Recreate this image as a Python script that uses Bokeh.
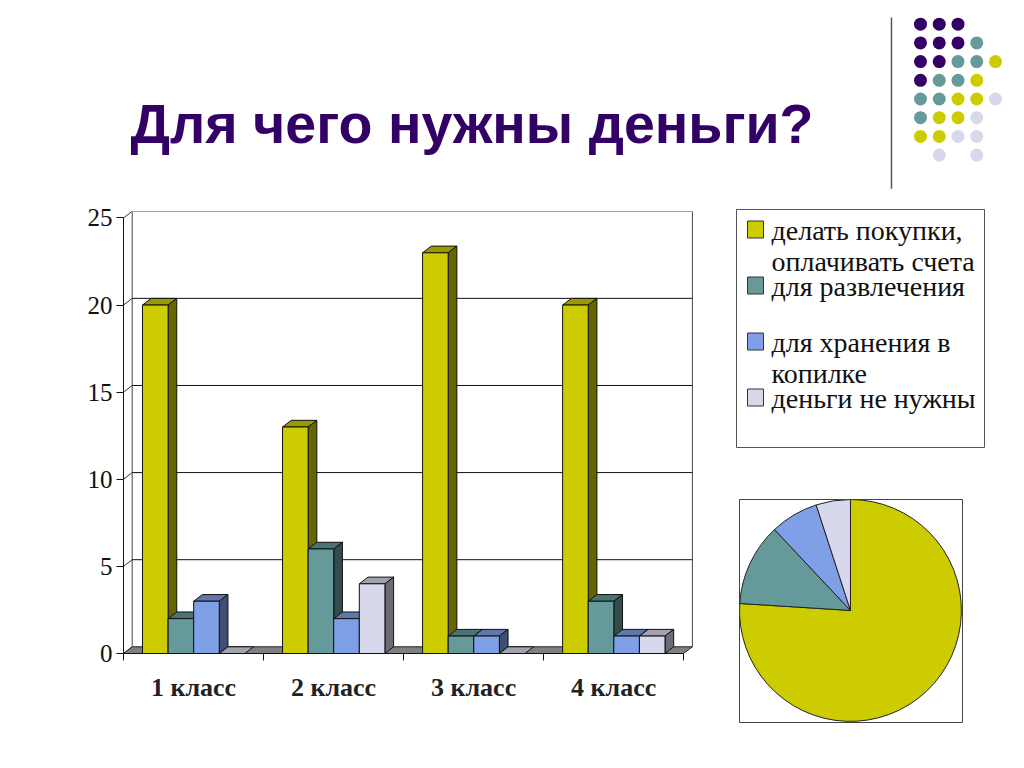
import math
from bokeh.plotting import figure
from bokeh.layouts import column, row
from bokeh.models import Label, FixedTicker, Range1d
from bokeh.core.properties import value
from bokeh.embed import file_html
from bokeh.resources import INLINE

# ---------- data ----------
title_text = "Для чего нужны деньги?"
categories = ["1 класс", "2 класс", "3 класс", "4 класс"]
series_names = ["делать покупки,\nоплачивать счета", "для развлечения",
                "для хранения в\nкопилке", "деньги не нужны"]
buy = [20, 13, 23, 20]
fun = [2, 6, 1, 3]
save = [3, 2, 1, 1]
no_need = [0, 4, 0, 1]
y_ticks = [0, 5, 10, 15, 20, 25]

front_colors = ["#CCCC00", "#669999", "#7F9FE6", "#D8D8EC"]
top_colors = ["#999900", "#4C7373", "#5F77AD", "#A2A2B1"]
side_colors = ["#666600", "#334C4C", "#3F4F73", "#6C6C76"]

dot_colors = {"P": "#330066", "T": "#669999", "Y": "#CCCC00", "L": "#D8D8EC"}
dot_rows = ["PPP..", "PPPT.", "PPTTY", "PTTY.", "TTYYL", "TYYL.", "YYLL.", ".L.L."]

SERIF = value("Liberation Serif")
series = [buy, fun, save, no_need]

# ---------- title ----------
pt = figure(width=880, height=195, output_backend="svg", toolbar_location=None,
            x_range=Range1d(0, 880), y_range=Range1d(0, 195), min_border=0)
pt.axis.visible = False
pt.grid.visible = False
pt.outline_line_color = None
pt.add_layout(Label(x=130, y=41, x_units="screen", y_units="screen", text=title_text,
                    text_font="Liberation Sans", text_font_style="bold",
                    text_font_size="55.5px", text_color="#330066"))

# ---------- decorative dots ----------
pd_ = figure(width=136, height=195, output_backend="svg", toolbar_location=None,
             x_range=Range1d(-2.133, 5.12), y_range=Range1d(9.16, -1.267), min_border=0)
pd_.axis.visible = False
pd_.grid.visible = False
pd_.outline_line_color = None
pd_.segment([-1.547], [-0.36], [-1.547], [8.8], line_color="#555555", line_width=1.5)
dx_, dy_, dc_ = [], [], []
for r, txt in enumerate(dot_rows):
    for c, ch in enumerate(txt):
        if ch != ".":
            dx_.append(c); dy_.append(r); dc_.append(dot_colors[ch])
pd_.scatter(dx_, dy_, size=13, fill_color=dc_, line_color=None)

# ---------- 3D bar chart ----------
BAR_W = 25.6 / 140.1
GAP = 19 / 140.1
DX = 8.7 / 140.1
DY = 6.7 / 17.44
n = len(categories)
p = figure(width=720, height=565, output_backend="svg", toolbar_location=None,
           x_range=Range1d(0, 4.07), y_range=Range1d(0, 25.37),
           min_border_left=123, min_border_right=27, min_border_top=16, min_border_bottom=107)
p.grid.visible = False
p.outline_line_color = None

# walls and floor
p.patch([0, DX, n + DX, n], [0, DY, DY, 0], fill_color="#808080", line_color="#222222", line_width=1)
p.multi_line([[DX, DX]], [[DY, 25 + DY]], line_color="#444444", line_width=1)
p.multi_line([[DX, n + DX]] * 5, [[t + DY, t + DY] for t in y_ticks[1:]], line_color="#111111", line_width=1)
p.multi_line([[n + DX, n + DX]], [[DY, 25 + DY]], line_color="#444444", line_width=1)
p.multi_line([[0, DX]] * 6, [[t, t + DY] for t in y_ticks], line_color="#333333", line_width=1)

# bars
for g in range(n):
    for s, vals in enumerate(series):
        v = vals[g]
        x0 = g + GAP + s * BAR_W
        x1 = x0 + BAR_W
        p.patch([x0, x1, x1 + DX, x0 + DX], [v, v, v + DY, v + DY],
                fill_color=top_colors[s], line_color="#111111", line_width=1)
        if v > 0:
            p.patch([x1, x1 + DX, x1 + DX, x1], [0, DY, v + DY, v],
                    fill_color=side_colors[s], line_color="#111111", line_width=1)
            p.quad(left=[x0], right=[x1], bottom=[0], top=[v],
                   fill_color=front_colors[s], line_color="#111111", line_width=1)

p.xaxis.ticker = FixedTicker(ticks=[i + 0.5 for i in range(n)], minor_ticks=list(range(n + 1)))
p.xaxis.major_label_overrides = {i + 0.5: c for i, c in enumerate(categories)}
p.xaxis.bounds = (0, n)
p.xaxis.major_tick_line_color = None
p.xaxis.minor_tick_in = 0
p.xaxis.minor_tick_out = 7
p.xaxis.minor_tick_line_color = "#111111"
p.xaxis.axis_line_color = "#111111"
p.xaxis.major_label_text_font = "Liberation Serif"
p.xaxis.major_label_text_font_size = "26px"
p.xaxis.major_label_text_font_style = "bold"
p.xaxis.major_label_text_color = "#222222"
p.xaxis.major_label_standoff = 12
p.yaxis.ticker = FixedTicker(ticks=y_ticks)
p.yaxis.bounds = (0, 25)
p.yaxis.minor_tick_line_color = None
p.yaxis.major_tick_in = 0
p.yaxis.major_tick_out = 7
p.yaxis.major_tick_line_color = "#111111"
p.yaxis.axis_line_color = "#111111"
p.yaxis.major_label_text_font = "Liberation Serif"
p.yaxis.major_label_text_font_size = "25px"
p.yaxis.major_label_text_color = "#111111"
p.yaxis.major_label_standoff = 4

# ---------- legend box ----------
pl = figure(width=296, height=285, output_backend="svg", toolbar_location=None,
            x_range=Range1d(0, 248), y_range=Range1d(238, 0),
            min_border_left=16, min_border_right=32, min_border_top=14, min_border_bottom=33)
pl.axis.visible = False
pl.grid.visible = False
pl.outline_line_color = "#555555"
rows_ = list(range(len(series_names)))
row_y = [20 + 56 * r for r in rows_]
pl.rect([19] * 4, row_y, width=16, height=17, fill_color=front_colors, line_color="#333333", line_width=1)
pl.text([35] * 4, row_y, text=series_names, text_font=SERIF, text_font_size="28px",
        text_color="#111111", text_baseline="top", y_offset=-15, text_line_height=1.0)

# ---------- pie ----------
shares = [sum(v) for v in series]
total = sum(shares)
angles, a = [], math.pi / 2
for sh in shares:
    angles.append(a)
    a -= sh / total * 2 * math.pi
ends = angles[1:] + [math.pi / 2 - 2 * math.pi]
pp = figure(width=296, height=280, output_backend="svg", toolbar_location=None,
            x_range=Range1d(-1.0, 1.01), y_range=Range1d(-1.01, 1.0),
            min_border_left=19, min_border_right=54, min_border_top=19, min_border_bottom=38)
pp.axis.visible = False
pp.grid.visible = False
pp.outline_line_color = "#444444"
pp.wedge([0] * 4, [0] * 4, radius=1.0, start_angle=angles, end_angle=ends, direction="clock",
         fill_color=front_colors, line_color="#222222", line_width=1)

layout = column(row(pt, pd_), row(p, column(row(pl), row(pp))))
open("out.html", "w").write(file_html(layout, INLINE))
